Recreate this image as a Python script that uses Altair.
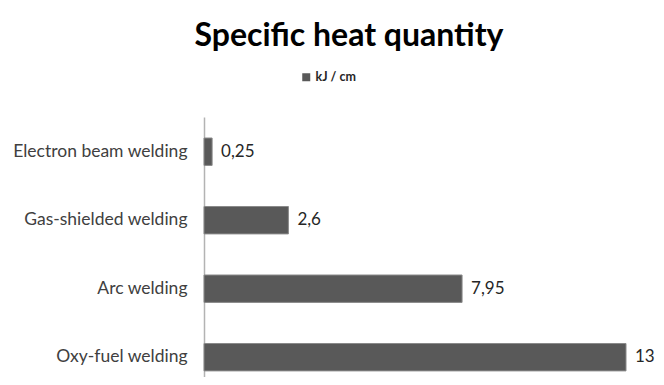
import altair as alt
import pandas as pd

categories = ["Electron beam welding", "Gas-shielded welding", "Arc welding", "Oxy-fuel welding"]
values = [0.25, 2.6, 7.95, 13]
series_name = "kJ / cm"
labels = [str(v).replace(".", ",") for v in values]

df = pd.DataFrame({"method": categories, "value": values, "label": labels, "series": series_name})

FONT = "Lato"

y_enc = alt.Y("method:N", sort=categories, title=None,
              scale=alt.Scale(paddingInner=0.6, paddingOuter=0.198, align=0.775),
              axis=alt.Axis(domainColor="#b3b3b3", domainWidth=1.5, ticks=False,
                            labelFont=FONT, labelFontSize=17.5, labelColor="#404040",
                            labelPadding=17))
x_enc = alt.X("value:Q", scale=alt.Scale(domain=[0, 13], nice=False), axis=None)

bars = alt.Chart(df).mark_bar(stroke="#8a8a8a", strokeWidth=1).encode(
    y=y_enc, x=x_enc,
    color=alt.Color("series:N", scale=alt.Scale(range=["#595959"]),
                    legend=alt.Legend(title=None, orient="none", legendX=96, legendY=-46,
                                      symbolType="square", symbolSize=64, symbolStrokeWidth=0,
                                      labelFont=FONT, labelFontSize=12.5, labelFontWeight="bold",
                                      labelColor="#262626", padding=0, labelOffset=3)),
)

text = alt.Chart(df).mark_text(align="left", baseline="middle", dx=9, font=FONT,
                               fontSize=17, color="#262626").encode(
    y=alt.Y("method:N", sort=categories),
    x=alt.X("value:Q"),
    text="label:N",
)

chart = alt.layer(bars, text).properties(
    width=422, height=260,
    title=alt.TitleParams("Specific heat quantity", font=FONT, fontSize=32, fontWeight="bold",
                          color="#000000", anchor="middle", dx=-66, offset=18),
    autosize=alt.AutoSizeParams(type="none"),
    padding={"left": 196, "top": 109, "right": 30, "bottom": 0},
).configure_view(stroke=None)

chart.save("out.html", embed_options={"renderer": "svg", "actions": False})
